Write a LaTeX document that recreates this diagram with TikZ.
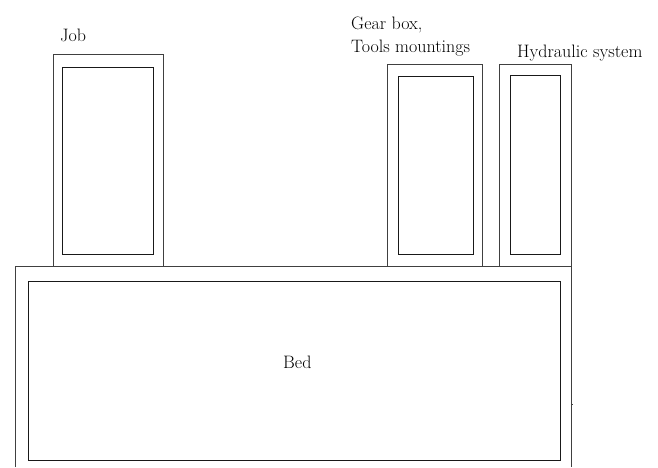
\documentclass[tikz,border=0pt]{standalone}
\begin{document}
\begin{tikzpicture}[x=1pt,y=-1pt,
  outerbox/.style={draw=black!75,line width=0.9pt},
  innerbox/.style={draw=black!90,line width=0.9pt},
  lbl/.style={inner sep=0pt,anchor=base west,font=\fontsize{18}{22}\selectfont}]
\useasboundingbox (0,0) rectangle (658,467);
% Bed
\draw[outerbox] (15,467) -- (15,266.5) -- (571,266.5) -- (571,467);
\draw[outerbox] (571,404) -- (573,404);
\draw[innerbox] (28,281) rectangle (560,460);
% Job
\draw[outerbox] (53,266.5) -- (53,54) -- (163,54) -- (163,266.5);
\draw[innerbox] (62,67) rectangle (153,254);
% Gear box
\draw[outerbox] (387,266.5) -- (387,64) -- (482,64) -- (482,266.5);
\draw[innerbox] (398,76) rectangle (473,254);
% Hydraulic system
\draw[outerbox] (499,266.5) -- (499,64) -- (571,64) -- (571,266.5);
\draw[innerbox] (510,75) rectangle (560,254);
% Labels
\node[lbl] (job) at (60,41) {Job};
\node[lbl] (gear1) at (351,29) {Gear box,};
\node[lbl] (gear2) at (351,52) {Tools mountings};
\node[lbl] (hyd) at (517,57) {Hydraulic system};
\node[lbl] (bed) at (283,368) {Bed};
\end{tikzpicture}
\end{document}
